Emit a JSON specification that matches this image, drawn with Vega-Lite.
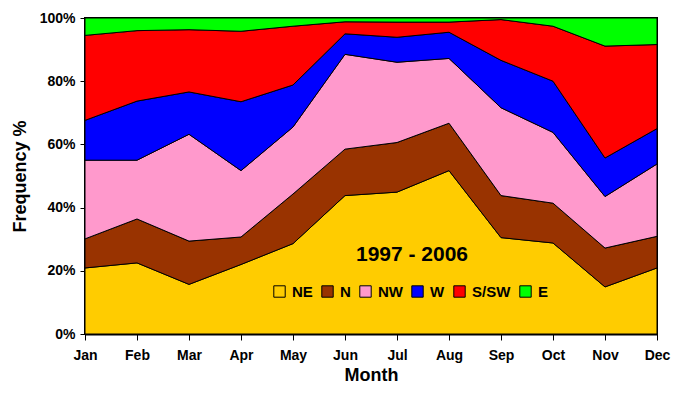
{
  "$schema": "https://vega.github.io/schema/vega-lite/v6.json",
  "width": 572,
  "height": 316,
  "autosize": {"type": "none"},
  "padding": {"left": 85, "top": 18, "right": 23, "bottom": 62},
  "background": "white",
  "config": {
    "view": {"stroke": "black", "strokeWidth": 2},
    "font": "Liberation Sans",
    "axis": {"labelFont": "Liberation Sans", "titleFont": "Liberation Sans", "labelFontWeight": "bold", "titleFontWeight": "bold", "labelColor": "black", "titleColor": "black", "domainColor": "black", "tickColor": "black", "grid": false}
  },
  "datasets": {
    "wind": [
      {"month": "Jan", "dir": "NE", "i": 1, "pct": 20.9}, {"month": "Jan", "dir": "N", "i": 2, "pct": 9.2}, {"month": "Jan", "dir": "NW", "i": 3, "pct": 24.9}, {"month": "Jan", "dir": "W", "i": 4, "pct": 12.6}, {"month": "Jan", "dir": "S/SW", "i": 5, "pct": 26.9}, {"month": "Jan", "dir": "E", "i": 6, "pct": 5.5},
      {"month": "Feb", "dir": "NE", "i": 1, "pct": 22.5}, {"month": "Feb", "dir": "N", "i": 2, "pct": 13.9}, {"month": "Feb", "dir": "NW", "i": 3, "pct": 18.6}, {"month": "Feb", "dir": "W", "i": 4, "pct": 18.7}, {"month": "Feb", "dir": "S/SW", "i": 5, "pct": 22.3}, {"month": "Feb", "dir": "E", "i": 6, "pct": 4.0},
      {"month": "Mar", "dir": "NE", "i": 1, "pct": 15.7}, {"month": "Mar", "dir": "N", "i": 2, "pct": 13.7}, {"month": "Mar", "dir": "NW", "i": 3, "pct": 33.8}, {"month": "Mar", "dir": "W", "i": 4, "pct": 13.4}, {"month": "Mar", "dir": "S/SW", "i": 5, "pct": 19.7}, {"month": "Mar", "dir": "E", "i": 6, "pct": 3.7},
      {"month": "Apr", "dir": "NE", "i": 1, "pct": 22.0}, {"month": "Apr", "dir": "N", "i": 2, "pct": 8.7}, {"month": "Apr", "dir": "NW", "i": 3, "pct": 21.0}, {"month": "Apr", "dir": "W", "i": 4, "pct": 21.8}, {"month": "Apr", "dir": "S/SW", "i": 5, "pct": 22.3}, {"month": "Apr", "dir": "E", "i": 6, "pct": 4.2},
      {"month": "May", "dir": "NE", "i": 1, "pct": 28.6}, {"month": "May", "dir": "N", "i": 2, "pct": 15.7}, {"month": "May", "dir": "NW", "i": 3, "pct": 21.2}, {"month": "May", "dir": "W", "i": 4, "pct": 13.3}, {"month": "May", "dir": "S/SW", "i": 5, "pct": 18.6}, {"month": "May", "dir": "E", "i": 6, "pct": 2.6},
      {"month": "Jun", "dir": "NE", "i": 1, "pct": 43.8}, {"month": "Jun", "dir": "N", "i": 2, "pct": 14.7}, {"month": "Jun", "dir": "NW", "i": 3, "pct": 30.0}, {"month": "Jun", "dir": "W", "i": 4, "pct": 6.5}, {"month": "Jun", "dir": "S/SW", "i": 5, "pct": 3.8}, {"month": "Jun", "dir": "E", "i": 6, "pct": 1.2},
      {"month": "Jul", "dir": "NE", "i": 1, "pct": 44.9}, {"month": "Jul", "dir": "N", "i": 2, "pct": 15.7}, {"month": "Jul", "dir": "NW", "i": 3, "pct": 25.4}, {"month": "Jul", "dir": "W", "i": 4, "pct": 7.9}, {"month": "Jul", "dir": "S/SW", "i": 5, "pct": 4.8}, {"month": "Jul", "dir": "E", "i": 6, "pct": 1.3},
      {"month": "Aug", "dir": "NE", "i": 1, "pct": 51.7}, {"month": "Aug", "dir": "N", "i": 2, "pct": 15.0}, {"month": "Aug", "dir": "NW", "i": 3, "pct": 20.5}, {"month": "Aug", "dir": "W", "i": 4, "pct": 8.3}, {"month": "Aug", "dir": "S/SW", "i": 5, "pct": 3.2}, {"month": "Aug", "dir": "E", "i": 6, "pct": 1.3},
      {"month": "Sep", "dir": "NE", "i": 1, "pct": 30.5}, {"month": "Sep", "dir": "N", "i": 2, "pct": 13.3}, {"month": "Sep", "dir": "NW", "i": 3, "pct": 27.8}, {"month": "Sep", "dir": "W", "i": 4, "pct": 15.0}, {"month": "Sep", "dir": "S/SW", "i": 5, "pct": 12.9}, {"month": "Sep", "dir": "E", "i": 6, "pct": 0.5},
      {"month": "Oct", "dir": "NE", "i": 1, "pct": 28.8}, {"month": "Oct", "dir": "N", "i": 2, "pct": 12.6}, {"month": "Oct", "dir": "NW", "i": 3, "pct": 22.4}, {"month": "Oct", "dir": "W", "i": 4, "pct": 16.2}, {"month": "Oct", "dir": "S/SW", "i": 5, "pct": 17.4}, {"month": "Oct", "dir": "E", "i": 6, "pct": 2.6},
      {"month": "Nov", "dir": "NE", "i": 1, "pct": 14.9}, {"month": "Nov", "dir": "N", "i": 2, "pct": 12.3}, {"month": "Nov", "dir": "NW", "i": 3, "pct": 16.3}, {"month": "Nov", "dir": "W", "i": 4, "pct": 12.2}, {"month": "Nov", "dir": "S/SW", "i": 5, "pct": 35.4}, {"month": "Nov", "dir": "E", "i": 6, "pct": 8.9},
      {"month": "Dec", "dir": "NE", "i": 1, "pct": 20.9}, {"month": "Dec", "dir": "N", "i": 2, "pct": 10.0}, {"month": "Dec", "dir": "NW", "i": 3, "pct": 22.9}, {"month": "Dec", "dir": "W", "i": 4, "pct": 11.2}, {"month": "Dec", "dir": "S/SW", "i": 5, "pct": 26.6}, {"month": "Dec", "dir": "E", "i": 6, "pct": 8.4}
    ],
    "label": [{"t": "1997 - 2006"}]
  },
  "layer": [
    {
      "data": {"name": "wind"},
      "mark": {"type": "area", "stroke": "black", "strokeWidth": 1, "opacity": 1},
      "encoding": {
        "x": {
          "field": "month", "type": "ordinal",
          "sort": ["Jan", "Feb", "Mar", "Apr", "May", "Jun", "Jul", "Aug", "Sep", "Oct", "Nov", "Dec"],
          "scale": {"type": "point", "padding": 0},
          "axis": {"title": "Month", "labelAngle": 0, "labelFontSize": 14, "titleFontSize": 18, "labelPadding": 8, "tickSize": 6, "domainWidth": 2, "titlePadding": 4}
        },
        "y": {
          "field": "pct", "type": "quantitative", "stack": "normalize",
          "axis": {"title": "Frequency %", "format": ".0%", "values": [0, 0.2, 0.4, 0.6, 0.8, 1], "labelFontSize": 14, "titleFontSize": 18, "tickSize": 5, "domainWidth": 2, "labelPadding": 5, "titlePadding": 10}
        },
        "color": {
          "field": "dir", "type": "nominal",
          "scale": {"domain": ["NE", "N", "NW", "W", "S/SW", "E"], "range": ["#FFCC00", "#993300", "#FF99CC", "#0000FF", "#FF0000", "#00FF00"]},
          "legend": {
            "title": null, "orient": "none", "legendX": 187, "legendY": 266,
            "direction": "horizontal", "columns": 6, "gridAlign": "none",
            "symbolType": "square", "symbolSize": 130, "symbolStrokeColor": "black", "symbolStrokeWidth": 1, "symbolOpacity": 1,
            "labelFont": "Liberation Sans", "labelFontWeight": "bold", "labelFontSize": 15, "labelColor": "black",
            "columnPadding": 6, "labelOffset": 5
          }
        },
        "order": {"field": "i", "type": "quantitative", "sort": "ascending"}
      }
    },
    {
      "data": {"name": "label"},
      "mark": {"type": "text", "font": "Liberation Sans", "fontWeight": "bold", "fontSize": 21, "color": "black", "dx": 15, "baseline": "middle"},
      "encoding": {
        "x": {"datum": "Jul", "type": "ordinal"},
        "y": {"datum": 0.25, "type": "quantitative"},
        "text": {"field": "t"}
      }
    }
  ]
}
